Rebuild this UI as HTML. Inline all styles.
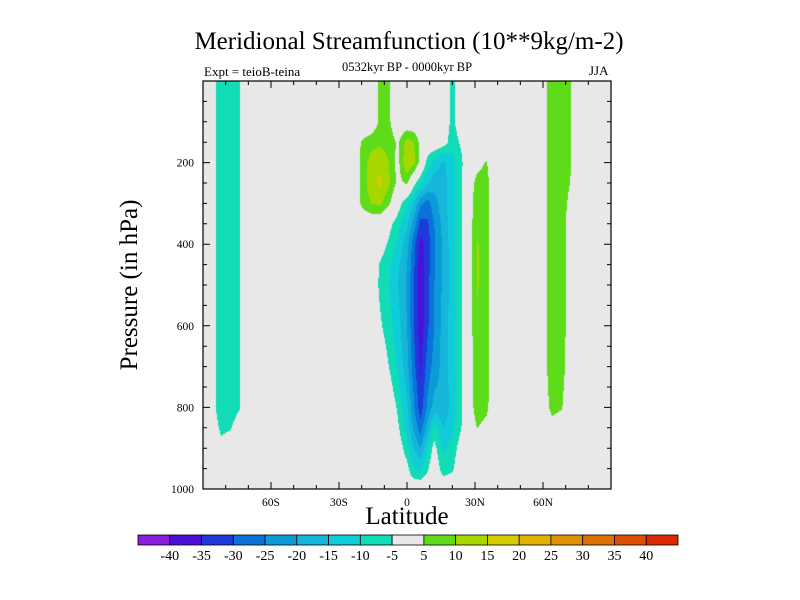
<!DOCTYPE html>
<html><head><meta charset="utf-8"><style>
body{margin:0;background:#fff;}
#wrap{position:relative;width:800px;height:600px;background:#fff;font-family:"Liberation Serif",serif;overflow:hidden}
.t{position:absolute;white-space:nowrap;color:#000}
canvas{position:absolute;left:203px;top:81px}
svg{position:absolute;left:0;top:0}
</style></head><body>
<div id="wrap">
<div class="t" style="left:0;width:818px;text-align:center;top:28px;font-size:25px">Meridional Streamfunction (10**9kg/m-2)</div>
<div class="t" style="left:204px;top:64px;font-size:13px">Expt = teioB-teina</div>
<div class="t" style="left:307px;width:200px;text-align:center;top:60px;font-size:12.5px">0532kyr BP - 0000kyr BP</div>
<div class="t" style="left:589px;top:63px;font-size:13px">JJA</div>
<div class="t" style="left:130px;top:285px;font-size:25px;transform:translate(-50%,-50%) rotate(-90deg)">Pressure (in hPa)</div>
<div class="t" style="left:407px;top:503px;font-size:25px;transform:translateX(-50%)">Latitude</div>
<canvas id="cv" width="408" height="408"></canvas>
<svg id="sv" width="800" height="600"></svg>
</div>
<script>
const lats=[-90,-86,-82,-78,-74,-70,-24,-20,-16,-12,-8,-4,0,3,6,9,12,16,20,24,27,31,35,39,41,43,57,60,64,68,72,76,90];
const pressures=[0,100,150,200,250,300,350,400,450,500,600,700,800,850,900,950,1000];
const field=[
[0,-3,-8,-9,-5.5,0, 0,0,0,6,6,0,0,0,0,0,0,-1,-6.5,-1,0,0,0,0,-5.5,0, 0,3,8,7,5.5,0,0],
[0,-3,-8,-9,-5.5,0, 0,0,0,6,6,0,0,0,0,0,0,-1,-6.5,-1,0,0,0,0,-5.5,0, 0,3,8,7,5.5,0,0],
[0,-3,-8,-9,-5.5,0, 0,5.5,8,9,8,4,12,10,3,0,0,-2,-8,-4,0,0,0,0,-5.2,0, 0,3,8,7,5.5,0,0],
[0,-3,-8,-9,-5.5,0, 0,6.5,12,14,10,3,15,12,2,-7,-12,-16,-12,-6,0,3,5.5,0,0,0, 0,3,8,7,5.5,0,0],
[0,-3,-8,-9,-5.5,0, 0,6.5,13,16,11,3,6,-3,-9,-14,-18,-17,-12,-6,1,7,7,0,0,0, 0,3,8,7,5,0,0],
[0,-3,-8,-9,-5.5,0, 0,6,10,11,6,-2,-9,-15,-24,-27,-22,-17,-12,-6,1.5,8.5,7,0,0,0, 0,3,8,7,4,0,0],
[0,-3,-8,-9,-5.5,0, 0,0,0,0,-3,-8,-14,-22,-32,-31,-25,-18,-12,-6,1.5,9,7,0,0,0, 0,3,8,7,3,0,0],
[0,-3,-8,-9,-5.5,0, 0,0,0,-1.5,-6,-11,-18,-28,-37,-33,-26,-19,-12,-6,1.5,10.5,7,0,0,0, 0,3,8,7,3,0,0],
[0,-3,-8,-9,-5.5,0, 0,0,0,-5.5,-9,-14,-20,-29,-38,-32,-26,-19,-13,-6,1.5,10.5,7,0,-5.3,0, 0,3,8,7,3,0,0],
[0,-3,-8,-9,-5.5,0, 0,0,0,-6,-10,-15,-21,-30,-39,-32,-25,-19,-13,-6,1.5,10.5,7,0,-5.3,0, 0,3,8,7,3,0,0],
[0,-3,-8,-8.5,-5.5,0, 0,0,0,-4,-8,-13,-20,-30,-38,-31,-25,-18,-12,-6,1.5,9,7,0,-5.3,0, 0,3,8,7,3,0,0],
[0,-3,-8,-8.5,-5.5,0, 0,0,0,0,-5,-11,-18,-28,-36,-28,-23,-18,-12,-6,1.5,8.5,7,0,-5.3,0, 0,3,7.5,6.5,3,0,0],
[0,-3,-8,-8,-5.5,0, 0,0,0,0,0,-6,-14,-24,-33,-24,-18,-19,-13,-6,1,8,6.5,0,-5.2,0, 0,2,6.5,5.5,2,0,0],
[0,-2,-6,-5.5,-2,0, 0,0,0,0,0,-4,-12,-21,-28,-18,-8,-15,-11,-5,0,5.2,3,0,0,0, 0,0,3,2,0,0,0],
[0,0,-3.5,-2,0,0, 0,0,0,0,0,-1,-8,-15,-20,-10,-3,-11,-8,-2,0,0,0,0,0,0, 0,0,0,0,0,0,0],
[0,0,0,0,0,0, 0,0,0,0,0,0,-3,-10,-11,-6,0,-8,-6,0,0,0,0,0,0,0, 0,0,0,0,0,0,0],
[0,0,0,0,0,0, 0,0,0,0,0,0,0,0,0,0,0,0,0,0,0,0,0,0,0,0, 0,0,0,0,0,0,0]
];
const levels=[-40,-35,-30,-25,-20,-15,-10,-5,5,10,15,20,25,30,35,40];
const levelLabels=["-40","-35","-30","-25","-20","-15","-10","-5","5","10","15","20","25","30","35","40"];
const colors=["#8b1fe0","#4c10da","#1f3adb","#0a72da","#0c9bd8","#16b6da","#0fcdd8","#11dcb5","#e8e8e8","#5edc1a","#a6d800","#d6cc00","#e2b200","#e09000","#de7000","#dc5000","#dc2a00"];
const xTicks=[-60,-30,0,30,60];
const xTickLabels=["60S","30S","0","30N","60N"];
const yTicks=[200,400,600,800,1000];

const PL=203,PT=81,PW=408,PH=408;
const xs=lat=>PL+(lat+90)/180*PW;
const ys=p=>PT+p/1000*PH;
function seg(arr,v){for(let i=0;i<arr.length-1;i++)if(v<=arr[i+1])return i;return arr.length-2;}
function val(lat,p){
 const i=seg(lats,lat),j=seg(pressures,p);
 const tx=(lat-lats[i])/(lats[i+1]-lats[i]),ty=(p-pressures[j])/(pressures[j+1]-pressures[j]);
 const a=field[j][i],b=field[j][i+1],c=field[j+1][i],d=field[j+1][i+1];
 return (a*(1-tx)+b*tx)*(1-ty)+(c*(1-tx)+d*tx)*ty;
}
const rgb=colors.map(h=>[parseInt(h.substr(1,2),16),parseInt(h.substr(3,2),16),parseInt(h.substr(5,2),16)]);
const ctx=document.getElementById('cv').getContext('2d');
const img=ctx.createImageData(PW,PH);
for(let y=0;y<PH;y++){const p=(y+0.5)/PH*1000;
 for(let x=0;x<PW;x++){const lat=-90+(x+0.5)/PW*180;const v=val(lat,p);
  let k=0;while(k<levels.length&&v>=levels[k])k++;const c=rgb[k];const o=(y*PW+x)*4;
  img.data[o]=c[0];img.data[o+1]=c[1];img.data[o+2]=c[2];img.data[o+3]=255;}}
ctx.putImageData(img,0,0);

const NS='http://www.w3.org/2000/svg';const sv=document.getElementById('sv');
function mk(tag,at,parent){const e=document.createElementNS(NS,tag);for(const k in at)e.setAttribute(k,at[k]);(parent||sv).appendChild(e);return e;}
let e=mk('rect',{x:PL,y:PT,width:PW,height:PH,fill:'none',stroke:'#000','stroke-width':1.2});


for(let lat=-80;lat<=80;lat+=10){const major=xTicks.includes(lat);const L=major?7:4;const x=xs(lat);
 e=mk('path',{d:`M${x},${PT+PH}v${-L}M${x},${PT}v${L}`,stroke:'#000','stroke-width':1});
 
 }
xTicks.forEach((t,i)=>{e=mk('text',{x:xs(t),y:PT+PH+17,'text-anchor':'middle','font-size':11.5,'font-family':'Liberation Serif, serif'});e.textContent=xTickLabels[i];
 
 });
for(let p=50;p<1000;p+=50){const major=yTicks.includes(p);const L=major?7:4;const y=ys(p);
 e=mk('path',{d:`M${PL},${y}h${L}M${PL+PW},${y}h${-L}`,stroke:'#000','stroke-width':1});
 
 }
yTicks.forEach(t=>{e=mk('text',{x:PL-9,y:ys(t)+4,'text-anchor':'end','font-size':11.5,'font-family':'Liberation Serif, serif'});e.textContent=String(t);
 
 });
const CB0=138,CB1=678,CBT=535,CBH=10,bw=(CB1-CB0)/colors.length;
colors.forEach((c,i)=>{e=mk('rect',{x:CB0+i*bw,y:CBT,width:bw,height:CBH,fill:c,stroke:'#000','stroke-width':0.8});
 
 });
levelLabels.forEach((l,i)=>{e=mk('text',{x:CB0+(i+1)*bw,y:CBT+CBH+15,'text-anchor':'middle','font-size':14,'font-family':'Liberation Serif, serif'});e.textContent=l;
 
 });
</script>
</body></html>
